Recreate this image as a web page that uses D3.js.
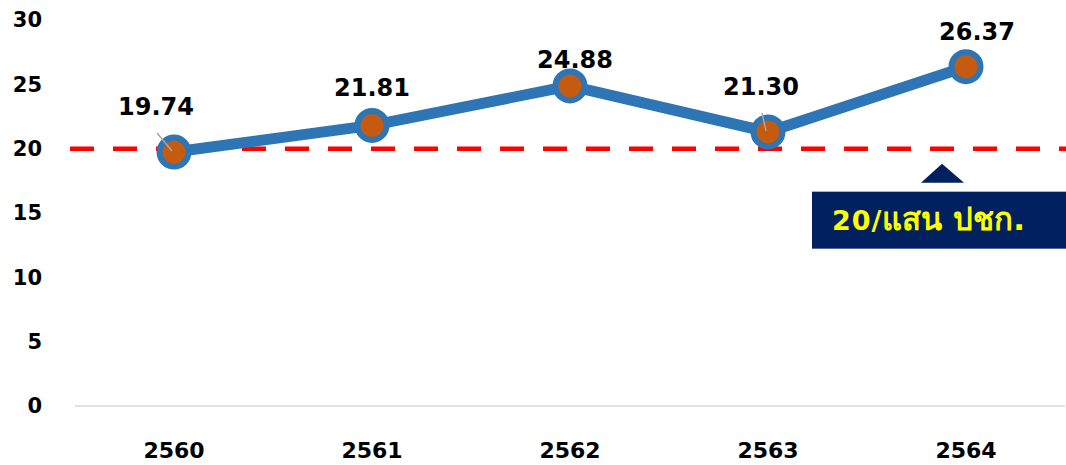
<!DOCTYPE html>
<html><head><meta charset="utf-8">
<script src="https://cdn.jsdelivr.net/npm/d3@7"></script>
<style>body{margin:0;background:#fff}svg{display:block}</style>
</head><body>
<svg id="c" width="1066" height="465"></svg>
<script>
const years = ["2560","2561","2562","2563","2564"];
const values = [19.74, 21.81, 24.88, 21.30, 26.37];
const yTicks = [0,5,10,15,20,25,30];
const target = 20;
const targetLabelNum = "20/";
const targetLabelThai = "แสน ปชก.";
// label offsets (layout only) relative to the point
const labelDx = [-18, 0, 5, -7, 11];
const labelDy = [-45, -38, -26, -45, -35];
const leader = [true, false, false, true, false];

const svg = d3.select("#c");
const x = d3.scaleBand().domain(years).range([75, 1065]);
const y = d3.scaleLinear().domain([0, 30]).range([406, 20]);
const font = "'DejaVu Sans', 'Liberation Sans', Arial, sans-serif";

// y axis labels
svg.append("g").selectAll("text").data(yTicks).join("text")
  .attr("x", 42).attr("y", d => y(d)).attr("dy", "0.35em")
  .attr("text-anchor", "end").attr("font-family", font).attr("font-weight", "bold")
  .attr("font-size", 21).attr("fill", "#000").text(d => d);

// x axis line
svg.append("line").attr("x1", 75).attr("x2", 1065).attr("y1", y(0)).attr("y2", y(0))
  .attr("stroke", "#d9d9d9").attr("stroke-width", 1.5);

// x labels
svg.append("g").selectAll("text").data(years).join("text")
  .attr("x", d => x(d) + x.bandwidth()/2).attr("y", 450).attr("dy", "0.35em")
  .attr("text-anchor", "middle").attr("font-family", font).attr("font-weight", "bold")
  .attr("font-size", 22).attr("fill", "#000").text(d => d);

// target dashed line
svg.append("line").attr("x1", 70).attr("x2", 1066).attr("y1", y(target)).attr("y2", y(target))
  .attr("stroke", "#ff0000").attr("stroke-width", 4.5).attr("stroke-dasharray", "24,19");

const cx = (d,i) => x(years[i]) + x.bandwidth()/2;

// line
svg.append("path").datum(values)
  .attr("d", d3.line().x((d,i) => cx(d,i)).y(d => y(d)))
  .attr("fill", "none").attr("stroke", "#2E75B6").attr("stroke-width", 11)
  .attr("stroke-linejoin", "round");

// markers
svg.append("g").selectAll("circle").data(values).join("circle")
  .attr("cx", cx).attr("cy", d => y(d)).attr("r", 14.5)
  .attr("fill", "#C55A11").attr("stroke", "#2E75B6").attr("stroke-width", 6);

// leader lines
values.forEach((v, i) => {
  if (!leader[i]) return;
  svg.append("line")
    .attr("x1", cx(v,i) + labelDx[i] + 1).attr("y1", y(v) + labelDy[i] + 26)
    .attr("x2", cx(v,i) - 2).attr("y2", y(v) - 1)
    .attr("stroke", "#a6a6a6").attr("stroke-width", 1.5);
});

// data labels
svg.append("g").selectAll("text").data(values).join("text")
  .attr("x", (d,i) => cx(d,i) + labelDx[i]).attr("y", (d,i) => y(d) + labelDy[i])
  .attr("dy", "0.35em").attr("text-anchor", "middle")
  .attr("font-family", font).attr("font-weight", "bold").attr("font-size", 24)
  .attr("fill", "#000").text(d => d.toFixed(2));

// callout
const ty = y(target);
svg.append("path")
  .attr("d", `M921,${ty+34} L942,${ty+15} L964,${ty+34} Z`).attr("fill", "#002060");
svg.append("rect").attr("x", 812).attr("y", ty+43).attr("width", 254).attr("height", 57)
  .attr("fill", "#002060");
const t = svg.append("text").attr("x", 832).attr("y", ty+81)
  .attr("font-family", font).attr("font-weight", "bold").attr("fill", "#ffff00");
t.append("tspan").attr("font-size", 27).attr("letter-spacing", 1).text(targetLabelNum);
t.append("tspan").attr("font-size", 31).text(targetLabelThai);
</script>
</body></html>
